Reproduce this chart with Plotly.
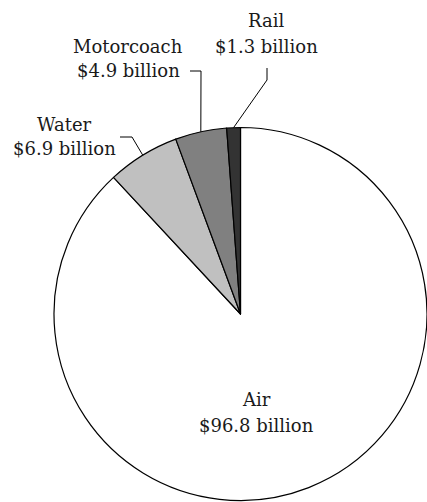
import math
import plotly.graph_objects as go

# Spending by mode of transportation
modes = ["Air", "Water", "Motorcoach", "Rail"]
spending = [96.8, 6.9, 4.9, 1.3]  # billions of dollars
value_labels = ["$96.8 billion", "$6.9 billion", "$4.9 billion", "$1.3 billion"]
slice_colors = ["#ffffff", "#c0c0c0", "#808080", "#333333"]

# Canvas and pie geometry (pixels)
W, H = 427, 502
CX, CY, R = 240.5, 314.0, 186.5

# Label placement: (x centre, y of first line, y of second line)
label_pos = {
    "Air": (256, 399, 425),
    "Water": (64, 124, 148),
    "Motorcoach": (128, 46, 70),
    "Rail": (266, 20, 46),
}
# Leader line bends for the outside labels: points after the rim point
leader_path = {
    "Water": [(132, 137), (120, 137)],
    "Motorcoach": [(201, 71), (190, 71)],
    "Rail": [(267, 80), (267, 68)],
}

fig = go.Figure()
fig.add_trace(go.Pie(
    labels=modes, values=spending, sort=False,
    direction="clockwise", rotation=0,
    marker=dict(colors=slice_colors, line=dict(color="#000000", width=1.2)),
    textinfo="none", hoverinfo="label+value", showlegend=False,
    domain=dict(x=[(CX - R) / W, min(1.0, (CX + R) / W)],
                y=[(H - CY - R) / H, (H - CY + R) / H]),
))

# Invisible pixel-space axes for labels and leader lines
fig.update_xaxes(range=[0, W], visible=False, fixedrange=True)
fig.update_yaxes(range=[H, 0], visible=False, fixedrange=True)
fig.add_trace(go.Scatter(x=[0], y=[0], mode="markers", marker=dict(opacity=0),
                         hoverinfo="skip", showlegend=False))

total = sum(spending)
start = 0.0
font = dict(family="DejaVu Serif", size=18, color="#1a1a1a")
for mode, val, vlab in zip(modes, spending, value_labels):
    sweep = val / total * 360.0
    mid = math.radians(start + sweep / 2)
    start += sweep
    lx, y1, y2 = label_pos[mode]
    for txt, yy in ((mode, y1), (vlab, y2)):
        fig.add_annotation(x=lx, y=yy, xref="x", yref="y", text=txt, showarrow=False,
                           xanchor="center", yanchor="middle", font=font)
    if mode in leader_path:
        rim = (CX + R * math.sin(mid), CY - R * math.cos(mid))
        pts = [rim] + leader_path[mode]
        for (xa, ya), (xb, yb) in zip(pts[:-1], pts[1:]):
            fig.add_shape(type="line", xref="x", yref="y", x0=xa, y0=ya, x1=xb, y1=yb,
                          line=dict(color="#000000", width=1), layer="above")

fig.update_layout(
    width=W, height=H,
    margin=dict(l=0, r=0, t=0, b=0),
    paper_bgcolor="#ffffff", plot_bgcolor="rgba(0,0,0,0)",
    showlegend=False,
    font=dict(family="DejaVu Serif"),
)

fig.write_html("out.html")
